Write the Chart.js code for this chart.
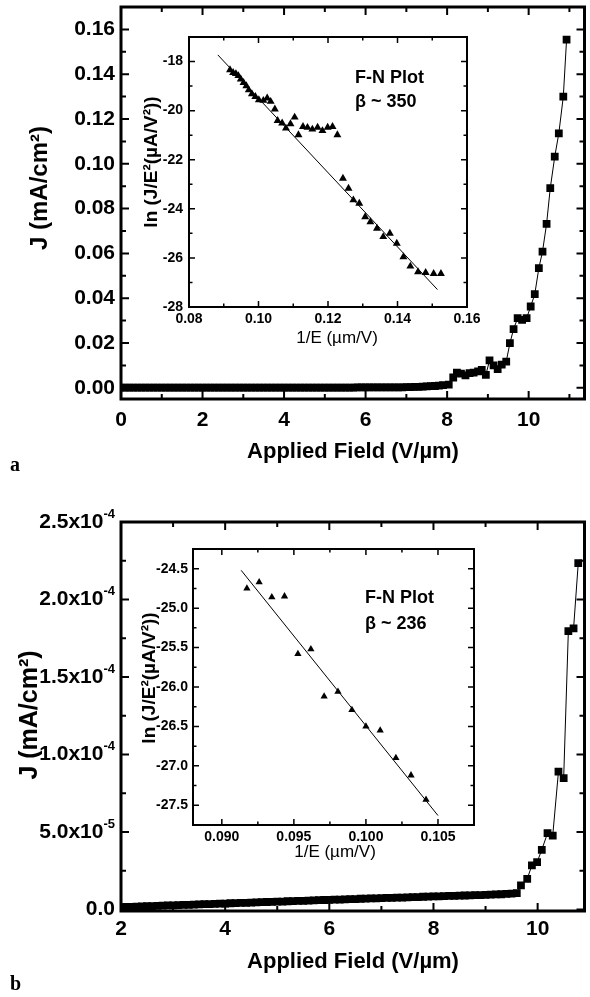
<!DOCTYPE html>
<html lang="en">
<head>
<meta charset="UTF-8">
<title>Field emission J-E curves</title>
<style>
  body { margin: 0; background: #fff; }
  #page { position: relative; width: 590px; height: 997px; background: #fff; }
  canvas { position: absolute; }
</style>
</head>
<body>
<div id="page">
  <canvas id="mainA" width="590" height="480" style="left:0;top:0"></canvas>
  <canvas id="insetA" width="350" height="330" style="left:130px;top:25px"></canvas>
  <canvas id="mainB" width="590" height="517" style="left:0;top:480px"></canvas>
  <canvas id="insetB" width="350" height="340" style="left:130px;top:530px"></canvas>
</div>
<script src="https://cdn.jsdelivr.net/npm/chart.js"></script>
<script>
// ---- sample a : J-E sweep (V/um, mA/cm2) ----
const aField = [
  0.0, 0.1, 0.2, 0.3, 0.4, 0.5, 0.6, 0.7, 0.8, 0.9, 1.0, 1.1, 1.2, 1.3, 1.4, 1.5, 1.6, 1.7, 1.8, 1.9,
  2.0, 2.1, 2.2, 2.3, 2.4, 2.5, 2.6, 2.7, 2.8, 2.9, 3.0, 3.1, 3.2, 3.3, 3.4, 3.5, 3.6, 3.7, 3.8, 3.9,
  4.0, 4.1, 4.2, 4.3, 4.4, 4.5, 4.6, 4.7, 4.8, 4.9, 5.0, 5.1, 5.2, 5.3, 5.4, 5.5, 5.6, 5.7, 5.8, 5.9,
  6.0, 6.1, 6.2, 6.3, 6.4, 6.5, 6.6, 6.7, 6.8, 6.9, 7.0, 7.1, 7.2, 7.3, 7.4, 7.5, 7.6, 7.7, 7.8, 7.9,
  8.04, 8.15, 8.24, 8.34, 8.45, 8.55, 8.65, 8.76, 8.85, 8.95, 9.04, 9.14, 9.24, 9.34, 9.45,
  9.54, 9.63, 9.73, 9.84, 9.95, 10.05, 10.15, 10.25, 10.34, 10.44, 10.53, 10.64, 10.74, 10.85, 10.93
];
const aJ = [
  0.0001, 0.0001, 0.0001, 0.0001, 0.0001, 0.0001, 0.0001, 0.0001, 0.0001, 0.0001,
  0.0001, 0.0001, 0.0001, 0.0001, 0.0001, 0.0001, 0.0001, 0.0001, 0.0001, 0.0001,
  0.0001, 0.0001, 0.0001, 0.0001, 0.0001, 0.0001, 0.0001, 0.0001, 0.0001, 0.0001,
  0.0001, 0.0001, 0.0001, 0.0001, 0.0001, 0.0001, 0.0001, 0.0001, 0.0001, 0.0001,
  0.0001, 0.0001, 0.0001, 0.0001, 0.0001, 0.0001, 0.0001, 0.0001, 0.0001, 0.0001,
  0.0001, 0.0001, 0.0001, 0.0001, 0.0001, 0.0001, 0.0001, 0.0001, 0.0002, 0.0002,
  0.0002, 0.0002, 0.0002, 0.0002, 0.0002, 0.0002, 0.0002, 0.0002, 0.0002, 0.0002,
  0.0003, 0.0003, 0.0004, 0.0004, 0.0005, 0.0006, 0.0007, 0.0008, 0.0010, 0.0012,
  0.0014, 0.0046, 0.0068, 0.0063, 0.0055, 0.0066, 0.0068, 0.0073, 0.0080, 0.0058,
  0.0122, 0.0100, 0.0083, 0.0103, 0.0117, 0.0199, 0.0262, 0.0311, 0.0303, 0.0311,
  0.0363, 0.0418, 0.0534, 0.0608, 0.0732, 0.0891, 0.1032, 0.1136, 0.1300, 0.1554
];
const aXTicks = [0, 2, 4, 6, 8, 10];
const aXLabels = ['0', '2', '4', '6', '8', '10'];
const aYTicks = [0, 0.02, 0.04, 0.06, 0.08, 0.10, 0.12, 0.14, 0.16];
const aYLabels = ['0.00', '0.02', '0.04', '0.06', '0.08', '0.10', '0.12', '0.14', '0.16'];

// F-N plot of sample a
const aInvE = [
  0.0918, 0.0927, 0.0935, 0.0942, 0.0949, 0.0957, 0.0965, 0.0972, 0.0981, 0.0991,
  0.1001, 0.1014, 0.1025, 0.1035, 0.1047, 0.1055, 0.1068, 0.1079, 0.1092, 0.1104,
  0.1115, 0.1128, 0.1141, 0.1155, 0.1170, 0.1184, 0.1199, 0.1213, 0.1227, 0.1243,
  0.1259, 0.1273, 0.1290, 0.1307, 0.1322, 0.1341, 0.1359, 0.1378, 0.1398, 0.1417,
  0.1437, 0.1459, 0.1481, 0.1504, 0.1525
];
const aLnJE = [
  -18.34, -18.45, -18.50, -18.58, -18.72, -18.86, -18.99, -19.16, -19.32, -19.43,
  -19.56, -19.59, -19.49, -19.63, -19.94, -20.41, -20.51, -20.72, -20.54, -20.27,
  -20.99, -20.65, -20.69, -20.76, -20.68, -20.82, -20.68, -20.65, -20.99, -22.76,
  -23.17, -23.64, -23.78, -24.33, -24.53, -24.80, -25.14, -25.00, -25.41, -25.96,
  -26.34, -26.57, -26.60, -26.64, -26.64
];
const aFitInvE = [0.0883, 0.1515];
const aFitLnJE = [-17.73, -27.29];
const aInXTicks = [0.08, 0.10, 0.12, 0.14, 0.16];
const aInXLabels = ['0.08', '0.10', '0.12', '0.14', '0.16'];
const aInYTicks = [-28, -26, -24, -22, -20, -18];
const aInYLabels = ['-28', '-26', '-24', '-22', '-20', '-18'];

// ---- sample b : J-E sweep, J in units of 1e-6 mA/cm2 ----
const bField = [
  2.0, 2.1, 2.2, 2.3, 2.4, 2.5, 2.6, 2.7, 2.8, 2.9, 3.0, 3.1, 3.2, 3.3, 3.4, 3.5, 3.6, 3.7, 3.8, 3.9,
  4.0, 4.1, 4.2, 4.3, 4.4, 4.5, 4.6, 4.7, 4.8, 4.9, 5.0, 5.1, 5.2, 5.3, 5.4, 5.5, 5.6, 5.7, 5.8, 5.9,
  6.0, 6.1, 6.2, 6.3, 6.4, 6.5, 6.6, 6.7, 6.8, 6.9, 7.0, 7.1, 7.2, 7.3, 7.4, 7.5, 7.6, 7.7, 7.8, 7.9,
  8.0, 8.1, 8.2, 8.3, 8.4, 8.5, 8.6, 8.7, 8.8, 8.9, 9.0, 9.1, 9.2, 9.3, 9.4, 9.5, 9.6,
  9.68, 9.80, 9.89, 9.99, 10.08, 10.19, 10.29, 10.40, 10.50, 10.59, 10.69, 10.78
];
const bJmicro = [
  1.5, 1.6, 1.7, 1.8, 2.0, 2.1, 2.2, 2.3, 2.4, 2.6, 2.7, 2.8, 2.9, 3.0, 3.1, 3.3, 3.4, 3.5, 3.6, 3.7,
  3.8, 4.0, 4.1, 4.2, 4.3, 4.4, 4.6, 4.7, 4.8, 4.9, 5.0, 5.1, 5.3, 5.4, 5.5, 5.6, 5.7, 5.8, 6.0, 6.1,
  6.2, 6.3, 6.4, 6.5, 6.6, 6.7, 6.9, 7.0, 7.1, 7.2, 7.3, 7.4, 7.5, 7.6, 7.7, 7.8, 7.9, 8.0, 8.2, 8.3,
  8.4, 8.5, 8.6, 8.7, 8.8, 8.9, 9.0, 9.1, 9.2, 9.3, 9.4, 9.6, 9.7, 9.8, 10.0, 10.2, 10.5,
  15.5, 19.8, 28.4, 30.5, 38.5, 49.2, 47.7, 88.9, 84.8, 179.6, 181.3, 223.5
];
const bXTicks = [2, 4, 6, 8, 10];
const bXLabels = ['2', '4', '6', '8', '10'];
const bYTicks = [0, 5e-5, 1e-4, 1.5e-4, 2e-4, 2.5e-4];
const bYLabels = ['0.0', '5.0x10', '1.0x10', '1.5x10', '2.0x10', '2.5x10'];
const bYExps = ['', '-5', '-4', '-4', '-4', '-4'];

// F-N plot of sample b
const bInvE = [0.09174, 0.09259, 0.09347, 0.09435, 0.09528, 0.09618, 0.09710,
               0.09806, 0.09903, 0.10000, 0.10099, 0.10208, 0.10313, 0.10417];
const bLnJE = [-24.75, -24.67, -24.86, -24.85, -25.58, -25.52, -26.12,
               -26.06, -26.29, -26.50, -26.55, -26.90, -27.12, -27.43];
const bFitInvE = [0.09134, 0.1050];
const bFitLnJE = [-24.52, -27.63];
const bInXTicks = [0.090, 0.095, 0.100, 0.105];
const bInXLabels = ['0.090', '0.095', '0.100', '0.105'];
const bInYTicks = [-27.5, -27.0, -26.5, -26.0, -25.5, -25.0, -24.5];
const bInYLabels = ['-27.5', '-27.0', '-26.5', '-26.0', '-25.5', '-25.0', '-24.5'];

const SANS = '"Liberation Sans", Arial, sans-serif';
Chart.defaults.font.family = SANS;

const pts = (xs, ys) => xs.map((x, i) => ({ x: x, y: ys[i] }));

// minor ticks sit half way between the major ones
function halfSteps(ticks, min, max) {
  const step = ticks[1] - ticks[0];
  const out = [];
  for (let v = ticks[0] - step / 2; v < max - step * 0.05; v += step) {
    if (v > min + step * 0.05) out.push(v);
  }
  return out;
}

// frame, inward ticks on all four sides, tick labels and free text
const axisFrame = {
  id: 'axisFrame',
  afterDatasetsDraw(chart, args, o) {
    const ctx = chart.ctx;
    const a = chart.chartArea;
    const sx = chart.scales.x, sy = chart.scales.y;
    ctx.save();
    ctx.strokeStyle = '#000';
    ctx.fillStyle = '#000';

    ctx.lineWidth = o.tickWidth;
    ctx.beginPath();
    const xMarks = (vals, len) => vals.forEach(v => {
      const p = sx.getPixelForValue(v);
      ctx.moveTo(p, a.bottom); ctx.lineTo(p, a.bottom - len);
      ctx.moveTo(p, a.top); ctx.lineTo(p, a.top + len);
    });
    const yMarks = (vals, len) => vals.forEach(v => {
      const p = sy.getPixelForValue(v);
      ctx.moveTo(a.left, p); ctx.lineTo(a.left + len, p);
      ctx.moveTo(a.right, p); ctx.lineTo(a.right - len, p);
    });
    xMarks(o.xTicks, o.major);
    yMarks(o.yTicks, o.major);
    xMarks(halfSteps(o.xTicks, sx.min, sx.max), o.minor);
    yMarks(halfSteps(o.yTicks, sy.min, sy.max), o.minor);
    ctx.stroke();

    ctx.lineWidth = o.frameWidth;
    ctx.strokeRect(a.left, a.top, a.right - a.left, a.bottom - a.top);

    ctx.font = o.tickFont;
    ctx.textBaseline = 'middle';
    ctx.textAlign = 'center';
    o.xTicks.forEach((v, i) => {
      ctx.fillText(o.xLabels[i], sx.getPixelForValue(v), a.bottom + o.xGap);
    });
    o.yTicks.forEach((v, i) => {
      const p = sy.getPixelForValue(v);
      const right = a.left - o.yGap;
      const sup = o.yExps ? o.yExps[i] : '';
      ctx.font = o.tickFont;
      if (!sup) {
        ctx.textAlign = 'right';
        ctx.fillText(o.yLabels[i], right, p);
        return;
      }
      const wBase = ctx.measureText(o.yLabels[i]).width;
      ctx.font = o.supFont;
      const wSup = ctx.measureText(sup).width;
      ctx.textAlign = 'left';
      ctx.font = o.tickFont;
      ctx.fillText(o.yLabels[i], right - wBase - wSup, p);
      ctx.font = o.supFont;
      ctx.fillText(sup, right - wSup, p - o.supRise);
    });

    (o.texts || []).forEach(t => {
      ctx.save();
      ctx.translate(t.x, t.y);
      if (t.rot) ctx.rotate(t.rot);
      ctx.font = t.font;
      ctx.textAlign = t.align || 'center';
      ctx.textBaseline = 'middle';
      ctx.fillText(t.text, 0, 0);
      ctx.restore();
    });
    ctx.restore();
  }
};

function makeChart(id, c) {
  return new Chart(document.getElementById(id), {
    type: 'scatter',
    data: { datasets: c.datasets },
    options: {
      responsive: false,
      animation: false,
      events: [],
      layout: { padding: { left: 0, top: c.padTop, right: c.padRight, bottom: 0 } },
      scales: {
        x: {
          type: 'linear', min: c.x[0], max: c.x[1],
          grid: { display: false }, border: { display: false }, ticks: { display: false },
          afterFit: s => { s.height = c.xH; }
        },
        y: {
          type: 'linear', min: c.y[0], max: c.y[1],
          grid: { display: false }, border: { display: false }, ticks: { display: false },
          afterFit: s => { s.width = c.yW; }
        }
      },
      plugins: { legend: { display: false }, tooltip: { enabled: false }, axisFrame: c.frame }
    },
    plugins: [axisFrame]
  });
}

const squares = {
  showLine: true, borderColor: '#000', borderWidth: 1,
  pointStyle: 'rect', pointRadius: 5.5, pointBackgroundColor: '#000', pointBorderWidth: 0
};
const triangles = {
  showLine: false, pointStyle: 'triangle', pointRadius: 4.6,
  pointBackgroundColor: '#000', pointBorderWidth: 0
};
const fitLine = { showLine: true, borderColor: '#000', borderWidth: 1, pointRadius: 0 };

const mainFrame = {
  tickWidth: 2, frameWidth: 3, major: 8, minor: 5,
  tickFont: 'bold 21px ' + SANS, yGap: 6
};
const insetFrame = {
  tickWidth: 1.5, frameWidth: 2, major: 6, minor: 3.5, tickFont: 'bold 14px ' + SANS
};

makeChart('mainA', {
  datasets: [Object.assign({ data: pts(aField, aJ) }, squares)],
  x: [0, 11.37], y: [-0.005, 0.170],
  padTop: 7, padRight: 2, yW: 121, xH: 81,
  frame: Object.assign({}, mainFrame, {
    xTicks: aXTicks, xLabels: aXLabels, yTicks: aYTicks, yLabels: aYLabels, xGap: 21,
    texts: [
      { text: 'Applied Field (V/\u00b5m)', x: 353, y: 452, font: 'bold 22px ' + SANS },
      { text: 'J (mA/cm\u00b2)', x: 40, y: 188, rot: -Math.PI / 2, font: 'bold 24px ' + SANS },
      { text: 'a', x: 10, y: 466, align: 'left', font: 'bold 20px "Liberation Serif", serif' }
    ]
  })
});

makeChart('insetA', {
  datasets: [
    Object.assign({ data: pts(aInvE, aLnJE) }, triangles),
    Object.assign({ data: pts(aFitInvE, aFitLnJE) }, fitLine)
  ],
  x: [0.08, 0.16], y: [-28, -17],
  padTop: 12, padRight: 13, yW: 59, xH: 48,
  frame: Object.assign({}, insetFrame, {
    xGap: 12, yGap: 6,
    xTicks: aInXTicks, xLabels: aInXLabels, yTicks: aInYTicks, yLabels: aInYLabels,
    texts: [
      { text: 'F-N Plot', x: 225, y: 53, align: 'left', font: 'bold 18px ' + SANS },
      { text: '\u03b2 ~ 350', x: 225, y: 77, align: 'left', font: 'bold 18px ' + SANS },
      { text: '1/E (\u00b5m/V)', x: 207, y: 313, font: '17px ' + SANS },
      { text: 'ln (J/E\u00b2(\u00b5A/V\u00b2))', x: 22, y: 137, rot: -Math.PI / 2, font: 'bold 19px ' + SANS }
    ]
  })
});

makeChart('mainB', {
  datasets: [Object.assign({ data: pts(bField, bJmicro.map(v => v * 1e-6)) }, squares)],
  x: [2, 10.9], y: [-1e-6, 2.5e-4],
  padTop: 42, padRight: 2, yW: 121, xH: 86,
  frame: Object.assign({}, mainFrame, {
    supFont: 'bold 13px ' + SANS, supRise: 8,
    xTicks: bXTicks, xLabels: bXLabels, yTicks: bYTicks, yLabels: bYLabels, yExps: bYExps, xGap: 18,
    texts: [
      { text: 'Applied Field (V/\u00b5m)', x: 353, y: 482, font: 'bold 22px ' + SANS },
      { text: 'J (mA/cm\u00b2)', x: 30, y: 235, rot: -Math.PI / 2, font: 'bold 25px ' + SANS },
      { text: 'b', x: 10, y: 505, align: 'left', font: 'bold 20px "Liberation Serif", serif' }
    ]
  })
});

makeChart('insetB', {
  datasets: [
    Object.assign({ data: pts(bInvE, bLnJE) }, triangles, { pointRadius: 4.2 }),
    Object.assign({ data: pts(bFitInvE, bFitLnJE) }, fitLine)
  ],
  x: [0.088, 0.1075], y: [-27.75, -24.25],
  padTop: 19, padRight: 6, yW: 63, xH: 45,
  frame: Object.assign({}, insetFrame, {
    xGap: 12, yGap: 5,
    xTicks: bInXTicks, xLabels: bInXLabels, yTicks: bInYTicks, yLabels: bInYLabels,
    texts: [
      { text: 'F-N Plot', x: 235, y: 68, align: 'left', font: 'bold 18px ' + SANS },
      { text: '\u03b2 ~ 236', x: 235, y: 94, align: 'left', font: 'bold 18px ' + SANS },
      { text: '1/E (\u00b5m/V)', x: 205, y: 322, font: '17px ' + SANS },
      { text: 'ln (J/E\u00b2(\u00b5A/V\u00b2))', x: 20, y: 148, rot: -Math.PI / 2, font: 'bold 19px ' + SANS }
    ]
  })
});
</script>
</body>
</html>
